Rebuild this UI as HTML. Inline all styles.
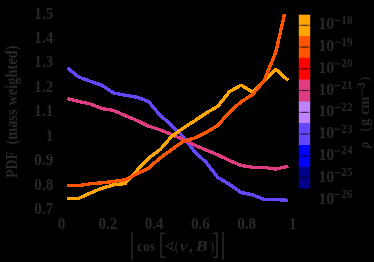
<!DOCTYPE html>
<html><head><meta charset="utf-8"><title>plot</title>
<style>
html,body{margin:0;padding:0;background:#000;}
body{width:374px;height:262px;overflow:hidden;}
svg{display:block;will-change:transform;}
text{font-family:"Liberation Serif",serif;fill:#282828;font-weight:bold;}
</style></head><body>
<svg width="374" height="262" viewBox="0 0 374 262">
<rect width="374" height="262" fill="#000"/>
<defs><clipPath id="cp"><rect x="60" y="14" width="232" height="198"/></clipPath></defs>
<g clip-path="url(#cp)">
<polyline points="67.30,67.90 78.88,77.10 90.46,81.30 102.04,85.40 113.62,93.00 125.20,95.20 136.78,97.20 148.36,101.40 159.94,115.00 171.52,125.30 183.10,136.60 194.68,151.70 206.26,162.50 217.84,177.50 229.42,184.40 241.00,192.50 252.58,194.80 264.16,199.40 275.74,199.50 288.22,200.36" fill="none" stroke="#6446ff" stroke-width="3.4" stroke-linejoin="round" stroke-linecap="butt" shape-rendering="crispEdges"/>
<polyline points="67.30,98.60 78.88,101.50 90.46,103.90 102.04,108.60 113.62,110.50 125.20,115.60 136.78,120.50 148.36,126.10 159.94,129.70 171.52,134.50 183.10,139.30 194.68,145.20 206.26,150.10 217.84,154.90 229.42,160.50 241.00,165.50 252.58,167.20 264.16,167.40 275.74,169.10 288.22,166.19" fill="none" stroke="#e03c82" stroke-width="3.3" stroke-linejoin="round" stroke-linecap="butt" shape-rendering="crispEdges"/>
<polyline points="67.30,198.50 78.88,198.30 90.46,193.00 102.04,188.20 113.62,184.90 125.20,183.50 136.78,170.70 148.36,158.30 159.94,149.80 171.52,136.60 183.10,128.20 194.68,120.80 206.26,113.00 217.84,106.30 229.42,91.70 241.00,85.20 252.58,92.00 264.16,81.20 275.74,69.30 288.22,80.51" fill="none" stroke="#ffa500" stroke-width="3.4" stroke-linejoin="round" stroke-linecap="butt" shape-rendering="crispEdges"/>
<polyline points="67.30,185.50 78.88,185.50 90.46,183.80 102.04,182.80 113.62,181.50 125.20,179.80 136.78,173.80 148.36,168.40 159.94,158.00 171.52,149.80 183.10,141.30 194.68,138.00 206.26,132.50 217.84,125.30 229.42,112.20 241.00,101.80 252.58,94.60 264.16,80.50 275.74,52.40 288.22,-1.92" fill="none" stroke="#ff5500" stroke-width="3.4" stroke-linejoin="round" stroke-linecap="butt" shape-rendering="crispEdges"/>
</g>
<rect x="298.8" y="14.70" width="11.4" height="21.70" fill="#ffa500"/>
<rect x="298.8" y="36.00" width="11.4" height="22.20" fill="#ff5500"/>
<rect x="298.8" y="57.80" width="11.4" height="22.20" fill="#ff0000"/>
<rect x="298.8" y="79.60" width="11.4" height="22.20" fill="#e03c82"/>
<rect x="298.8" y="101.40" width="11.4" height="22.20" fill="#be82ff"/>
<rect x="298.8" y="123.20" width="11.4" height="22.20" fill="#6446ff"/>
<rect x="298.8" y="145.00" width="11.4" height="22.20" fill="#0000ff"/>
<rect x="298.8" y="166.80" width="11.4" height="21.80" fill="#00008c"/>
<rect x="298.8" y="24.80" width="11.4" height="1" fill="#000" opacity="0.5"/>
<rect x="301.6" y="24.80" width="5.800000000000001" height="1" fill="#000" opacity="0.5"/>
<rect x="298.8" y="46.56" width="11.4" height="1" fill="#000" opacity="0.5"/>
<rect x="301.6" y="46.56" width="5.800000000000001" height="1" fill="#000" opacity="0.5"/>
<rect x="298.8" y="68.32" width="11.4" height="1" fill="#000" opacity="0.5"/>
<rect x="301.6" y="68.32" width="5.800000000000001" height="1" fill="#000" opacity="0.5"/>
<rect x="298.8" y="90.08" width="11.4" height="1" fill="#000" opacity="0.5"/>
<rect x="301.6" y="90.08" width="5.800000000000001" height="1" fill="#000" opacity="0.5"/>
<rect x="298.8" y="111.84" width="11.4" height="1" fill="#000" opacity="0.5"/>
<rect x="301.6" y="111.84" width="5.800000000000001" height="1" fill="#000" opacity="0.5"/>
<rect x="298.8" y="133.60" width="11.4" height="1" fill="#000" opacity="0.5"/>
<rect x="301.6" y="133.60" width="5.800000000000001" height="1" fill="#000" opacity="0.5"/>
<rect x="298.8" y="155.36" width="11.4" height="1" fill="#000" opacity="0.5"/>
<rect x="301.6" y="155.36" width="5.800000000000001" height="1" fill="#000" opacity="0.5"/>
<rect x="298.8" y="177.12" width="11.4" height="1" fill="#000" opacity="0.5"/>
<rect x="301.6" y="177.12" width="5.800000000000001" height="1" fill="#000" opacity="0.5"/>
<text x="53.2" y="18.60" font-size="16.5" text-anchor="end" transform="translate(53.4 0) scale(0.915 1) translate(-53.4 0)">1.5</text>
<text x="53.2" y="43.05" font-size="16.5" text-anchor="end" transform="translate(53.4 0) scale(0.915 1) translate(-53.4 0)">1.4</text>
<text x="53.2" y="67.50" font-size="16.5" text-anchor="end" transform="translate(53.4 0) scale(0.915 1) translate(-53.4 0)">1.3</text>
<text x="53.2" y="91.95" font-size="16.5" text-anchor="end" transform="translate(53.4 0) scale(0.915 1) translate(-53.4 0)">1.2</text>
<text x="53.2" y="116.40" font-size="16.5" text-anchor="end" transform="translate(53.4 0) scale(0.915 1) translate(-53.4 0)">1.1</text>
<text x="53.2" y="140.85" font-size="16.5" text-anchor="end" transform="translate(53.4 0) scale(0.915 1) translate(-53.4 0)">1</text>
<text x="53.2" y="165.30" font-size="16.5" text-anchor="end" transform="translate(53.4 0) scale(0.915 1) translate(-53.4 0)">0.9</text>
<text x="53.2" y="189.75" font-size="16.5" text-anchor="end" transform="translate(53.4 0) scale(0.915 1) translate(-53.4 0)">0.8</text>
<text x="53.2" y="214.20" font-size="16.5" text-anchor="end" transform="translate(53.4 0) scale(0.915 1) translate(-53.4 0)">0.7</text>
<text x="61.60" y="228.6" font-size="16.5" text-anchor="middle" transform="translate(61.60 0) scale(0.915 1) translate(-61.60 0)">0</text>
<text x="107.86" y="228.6" font-size="16.5" text-anchor="middle" transform="translate(107.86 0) scale(0.915 1) translate(-107.86 0)">0.2</text>
<text x="154.12" y="228.6" font-size="16.5" text-anchor="middle" transform="translate(154.12 0) scale(0.915 1) translate(-154.12 0)">0.4</text>
<text x="200.38" y="228.6" font-size="16.5" text-anchor="middle" transform="translate(200.38 0) scale(0.915 1) translate(-200.38 0)">0.6</text>
<text x="246.64" y="228.6" font-size="16.5" text-anchor="middle" transform="translate(246.64 0) scale(0.915 1) translate(-246.64 0)">0.8</text>
<text x="292.90" y="228.6" font-size="16.5" text-anchor="middle" transform="translate(292.90 0) scale(0.915 1) translate(-292.90 0)">1</text>
<text x="318.4" y="29.45" font-size="16.5" transform="translate(318.4 0) scale(0.965 1) translate(-318.4 0)">10</text><rect x="334.1" y="19.80" width="6.4" height="1.1" fill="#282828"/><text x="341.3" y="23.80" font-size="12.2" transform="translate(341.5 0) scale(0.92 1) translate(-341.5 0)">18</text>
<text x="318.4" y="51.21" font-size="16.5" transform="translate(318.4 0) scale(0.965 1) translate(-318.4 0)">10</text><rect x="334.1" y="41.56" width="6.4" height="1.1" fill="#282828"/><text x="341.3" y="45.56" font-size="12.2" transform="translate(341.5 0) scale(0.92 1) translate(-341.5 0)">19</text>
<text x="318.4" y="72.97" font-size="16.5" transform="translate(318.4 0) scale(0.965 1) translate(-318.4 0)">10</text><rect x="334.1" y="63.32" width="6.4" height="1.1" fill="#282828"/><text x="341.3" y="67.32" font-size="12.2" transform="translate(341.5 0) scale(0.92 1) translate(-341.5 0)">20</text>
<text x="318.4" y="94.73" font-size="16.5" transform="translate(318.4 0) scale(0.965 1) translate(-318.4 0)">10</text><rect x="334.1" y="85.08" width="6.4" height="1.1" fill="#282828"/><text x="341.3" y="89.08" font-size="12.2" transform="translate(341.5 0) scale(0.92 1) translate(-341.5 0)">21</text>
<text x="318.4" y="116.49" font-size="16.5" transform="translate(318.4 0) scale(0.965 1) translate(-318.4 0)">10</text><rect x="334.1" y="106.84" width="6.4" height="1.1" fill="#282828"/><text x="341.3" y="110.84" font-size="12.2" transform="translate(341.5 0) scale(0.92 1) translate(-341.5 0)">22</text>
<text x="318.4" y="138.25" font-size="16.5" transform="translate(318.4 0) scale(0.965 1) translate(-318.4 0)">10</text><rect x="334.1" y="128.60" width="6.4" height="1.1" fill="#282828"/><text x="341.3" y="132.60" font-size="12.2" transform="translate(341.5 0) scale(0.92 1) translate(-341.5 0)">23</text>
<text x="318.4" y="160.01" font-size="16.5" transform="translate(318.4 0) scale(0.965 1) translate(-318.4 0)">10</text><rect x="334.1" y="150.36" width="6.4" height="1.1" fill="#282828"/><text x="341.3" y="154.36" font-size="12.2" transform="translate(341.5 0) scale(0.92 1) translate(-341.5 0)">24</text>
<text x="318.4" y="181.77" font-size="16.5" transform="translate(318.4 0) scale(0.965 1) translate(-318.4 0)">10</text><rect x="334.1" y="172.12" width="6.4" height="1.1" fill="#282828"/><text x="341.3" y="176.12" font-size="12.2" transform="translate(341.5 0) scale(0.92 1) translate(-341.5 0)">25</text>
<text x="318.4" y="203.53" font-size="16.5" transform="translate(318.4 0) scale(0.965 1) translate(-318.4 0)">10</text><rect x="334.1" y="193.88" width="6.4" height="1.1" fill="#282828"/><text x="341.3" y="197.88" font-size="12.2" transform="translate(341.5 0) scale(0.92 1) translate(-341.5 0)">26</text>
<text x="0" y="0" font-size="16.5" transform="translate(17.1 178.0) rotate(-90) scale(0.84 1)">PDF</text>
<text x="0" y="0" font-size="16.5" transform="translate(17.1 144.6) rotate(-90) scale(0.87 1)">(mass</text>
<text x="0" y="0" font-size="16.5" transform="translate(17.1 105.6) rotate(-90) scale(0.874 1)">weighted)</text>
<g transform="translate(369.3 150) rotate(-90)"><text x="0" y="0" font-size="15.0" font-style="italic" transform="translate(1.9 0) scale(0.8 1)">ρ</text><text x="0" y="0" font-size="15.5" style="font-weight:normal" transform="translate(18.4 0) scale(0.9 1)">(</text><text x="0" y="0" font-size="15.5"  transform="translate(23.9 0) scale(0.92 1)">g</text><text x="0" y="0" font-size="15.5"  transform="translate(35.2 0) scale(0.92 1)">cm</text><rect x="54.3" y="-7.75" width="7.4" height="1.1" fill="#282828"/><text x="0" y="0" font-size="12.2"  transform="translate(62.0 -4.4) scale(0.92 1)">3</text><text x="0" y="0" font-size="15.5" style="font-weight:normal" transform="translate(68.6 0) scale(0.9 1)">)</text></g>
<g stroke="#282828" fill="none" stroke-width="1.5">
<line x1="132.0" y1="231.7" x2="132.0" y2="260"/>
<line x1="223.1" y1="231.7" x2="223.1" y2="260"/>
<polyline points="165.0,233.2 161.0,233.2 161.0,257.2 165.0,257.2" stroke-width="1.5"/>
<polyline points="213.1,233.2 217.0,233.2 217.0,257.2 213.1,257.2" stroke-width="1.5"/>
<path d="M174.3 241.6 L166.2 246.2 L174.3 250.8 M171.2 243.4 Q173.4 246.2 171.2 249.0" stroke-width="1.1"/>
</g>
<text x="136.9" y="251.4" font-size="15.6"  transform="translate(136.9 0) scale(0.876 1) translate(-136.9 0)">cos</text>
<text x="174.6" y="250.6" font-size="15.6" style="font-weight:normal" transform="translate(174.6 0) scale(0.9 1) translate(-174.6 0)">(</text>
<text x="179.8" y="251.0" font-size="15.6" font-style="italic" transform="translate(179.8 0) scale(1.12 1) translate(-179.8 0)">v</text>
<text x="189.0" y="251.0" font-size="15.6"  transform="translate(189.0 0) scale(1.0 1) translate(-189.0 0)">,</text>
<text x="195.7" y="251.0" font-size="15.6" font-style="italic" transform="translate(195.7 0) scale(1.15 1) translate(-195.7 0)">B</text>
<text x="209.6" y="250.6" font-size="15.6" style="font-weight:normal" transform="translate(209.6 0) scale(0.9 1) translate(-209.6 0)">)</text>
</svg></body></html>
